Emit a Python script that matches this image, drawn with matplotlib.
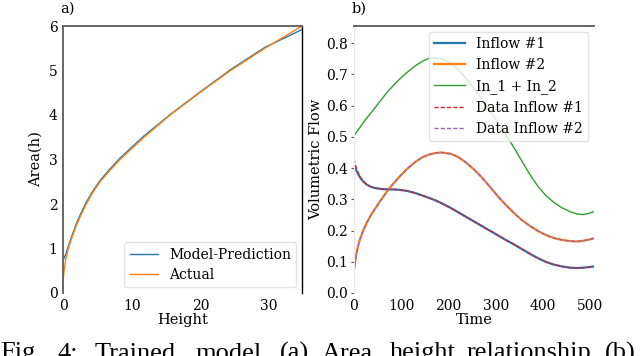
import matplotlib
matplotlib.use("Agg")
import matplotlib.pyplot as plt

plt.rcParams['font.family'] = ['DejaVu Serif']

# ---- panel a) data ----
height = [0, 0.15, 0.4, 0.77, 1.2, 1.9, 2.6, 3.4, 4.3, 5.4, 6.8, 8.3, 11.8, 15.6, 19.9, 24.4, 29.4, 34.8]
area_actual = [0.23, 0.5, 0.75, 1.0, 1.2, 1.5, 1.75, 2.0, 2.25, 2.5, 2.75, 3.0, 3.5, 4.0, 4.5, 5.0, 5.5, 6.0]
area_model = [0.72, 0.78, 0.87, 1.05, 1.24, 1.54, 1.79, 2.04, 2.28, 2.53, 2.78, 3.03, 3.53, 4.01, 4.51, 5.02, 5.52, 5.92]

# ---- panel b) data ----
time = [0, 4, 8, 13, 19, 27, 36, 45, 58, 73, 93, 112, 130, 145, 158, 172, 186, 204, 220, 237,
        253, 270, 286, 302, 320, 338, 355, 373, 390, 407, 423, 440, 458, 472, 485, 497, 508]
inflow1 = [0.410, 0.396, 0.383, 0.370, 0.358, 0.347, 0.340, 0.336, 0.333, 0.332, 0.331, 0.327, 0.320,
           0.312, 0.305, 0.297, 0.287, 0.273, 0.259, 0.244, 0.230, 0.215, 0.201, 0.187, 0.171, 0.156,
           0.141, 0.125, 0.111, 0.099, 0.091, 0.085, 0.081, 0.080, 0.081, 0.083, 0.085]
inflow2 = [0.075, 0.118, 0.148, 0.174, 0.198, 0.225, 0.250, 0.271, 0.300, 0.332, 0.367, 0.397, 0.420,
           0.435, 0.443, 0.448, 0.450, 0.446, 0.436, 0.418, 0.397, 0.371, 0.343, 0.314, 0.284, 0.257,
           0.234, 0.214, 0.198, 0.185, 0.176, 0.170, 0.166, 0.165, 0.167, 0.171, 0.175]
sum_in = [0.504, 0.512, 0.521, 0.531, 0.544, 0.560, 0.577, 0.594, 0.620, 0.648, 0.680, 0.706, 0.728,
          0.742, 0.751, 0.754, 0.750, 0.737, 0.716, 0.688, 0.657, 0.622, 0.588, 0.552, 0.511, 0.467,
          0.423, 0.378, 0.340, 0.311, 0.290, 0.273, 0.260, 0.253, 0.251, 0.255, 0.261]
data_in1 = [0.430, 0.405, 0.388, 0.372, 0.358, 0.347, 0.340, 0.336, 0.333, 0.332, 0.331, 0.327, 0.320,
            0.312, 0.305, 0.297, 0.287, 0.273, 0.259, 0.244, 0.230, 0.215, 0.201, 0.187, 0.171, 0.156,
            0.141, 0.125, 0.111, 0.099, 0.091, 0.085, 0.081, 0.080, 0.081, 0.083, 0.085]
data_in2 = [0.070, 0.112, 0.145, 0.172, 0.197, 0.224, 0.250, 0.271, 0.300, 0.332, 0.367, 0.397, 0.420,
            0.435, 0.443, 0.448, 0.450, 0.446, 0.436, 0.418, 0.397, 0.371, 0.343, 0.314, 0.284, 0.257,
            0.234, 0.214, 0.198, 0.185, 0.176, 0.170, 0.166, 0.165, 0.167, 0.171, 0.175]

caption_words = ['Fig.', '4:', 'Trained', 'model', '(a)', 'Area', 'height', 'relationship', '(b)']
caption_x = [0, 58, 95, 195, 280, 322, 390, 467, 605]

fig = plt.figure(figsize=(6.4, 3.56), dpi=100)
W, H = 640, 356
axa = fig.add_axes([63 / W, 1 - 293 / H, 239 / W, 267 / H])
axb = fig.add_axes([354 / W, 1 - 293 / H, 240 / W, 267 / H])

# panel a
axa.plot(height, area_model, color='#1f77b4', lw=1.0, label='Model-Prediction')
axa.plot(height, area_actual, color='#ff7f0e', lw=1.0, label='Actual')
axa.set_xlim(0, 34.8)
axa.set_ylim(0, 6)
axa.set_xticks([0, 10, 20, 30])
axa.set_yticks([0, 1, 2, 3, 4, 5, 6])
axa.tick_params(length=0, labelsize=10, pad=4)
axa.set_xlabel('Height', fontsize=10.5, labelpad=0)
axa.set_ylabel('Area(h)', fontsize=10.5, labelpad=4)
for s in ['left', 'top']:
    axa.spines[s].set_color('#666666')
    axa.spines[s].set_linewidth(1.4)
axa.spines['right'].set_color('black')
axa.spines['right'].set_linewidth(1.0)
axa.spines['bottom'].set_visible(False)
axa.text(-0.01, 1.04, 'a)', transform=axa.transAxes, fontsize=10.5, ha='left', va='bottom')
axa.legend(loc='lower right', fontsize=10, frameon=True, framealpha=0.8,
           edgecolor='#dddddd', fancybox=True, handlelength=2.0, borderaxespad=0.4,
           labelspacing=0.45)

# panel b
axb.plot(time, inflow1, color='#1f77b4', lw=1.6, label='Inflow #1')
axb.plot(time, inflow2, color='#ff7f0e', lw=1.6, label='Inflow #2')
axb.plot(time, sum_in, color='#2ca02c', lw=1.0, label='In_1 + In_2')
axb.plot(time, data_in1, color='#d62728', lw=1.0, ls='--', dashes=(3, 1.5), label='Data Inflow #1')
axb.plot(time, data_in2, color='#9467bd', lw=1.0, ls='--', dashes=(3, 1.5), label='Data Inflow #2')
axb.set_xlim(0, 508)
axb.set_ylim(0, 0.855)
axb.set_xticks([0, 100, 200, 300, 400, 500])
axb.set_yticks([0.0, 0.1, 0.2, 0.3, 0.4, 0.5, 0.6, 0.7, 0.8])
axb.set_yticklabels(['0.0', '0.1', '0.2', '0.3', '0.4', '0.5', '0.6', '0.7', '0.8'])
axb.tick_params(axis='x', length=0, labelsize=10, pad=4)
axb.tick_params(axis='y', length=2.5, width=0.8, color='#555555', labelsize=10, pad=2)
axb.set_xlabel('Time', fontsize=10.5, labelpad=0)
axb.set_ylabel('Volumetric Flow', fontsize=10.5, labelpad=2)
axb.spines['top'].set_color('#666666')
axb.spines['top'].set_linewidth(1.4)
axb.spines['left'].set_color('#e6e6e6')
axb.spines['left'].set_linewidth(0.8)
axb.spines['right'].set_visible(False)
axb.spines['bottom'].set_visible(False)
axb.text(-0.01, 1.04, 'b)', transform=axb.transAxes, fontsize=10.5, ha='left', va='bottom')
axb.legend(loc='upper right', fontsize=10, frameon=True, framealpha=0.8,
           edgecolor='#dddddd', fancybox=True, handlelength=2.2, borderaxespad=0.4,
           labelspacing=0.5)

# caption (bottom part cut off at the edge, as in the reference)
for word, xpix in zip(caption_words, caption_x):
    fig.text(xpix / W, -3.5 / H, word, fontsize=19, family='Liberation Serif',
             ha='left', va='baseline')

fig.savefig('out.png', dpi=100)
